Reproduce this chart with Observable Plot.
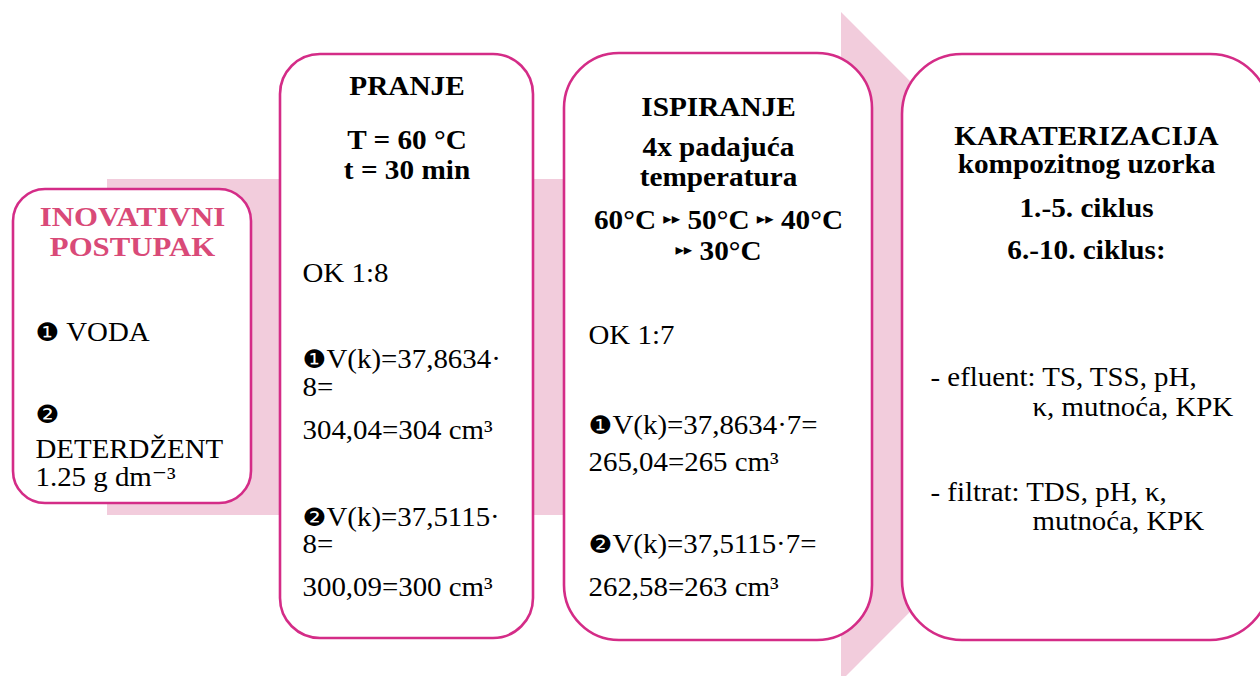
<!DOCTYPE html>
<html><head><meta charset="utf-8">
<script src="https://cdn.jsdelivr.net/npm/d3@7"></script>
<script src="https://cdn.jsdelivr.net/npm/@observablehq/plot@0.6"></script>
<style>html,body{margin:0;padding:0;background:#fff;overflow:hidden}</style>
</head><body><div id="chart"></div>
<script>
// ---------- content ----------
const box1Title = ["INOVATIVNI", "POSTUPAK"];
const box1Body = ["❶ VODA", "❷", "DETERDŽENT", "1.25 g dm⁻³"];
const box2Head = ["PRANJE", "T = 60 °C", "t = 30 min"];
const box2Body = ["OK 1:8", "❶V(k)=37,8634·", "8=", "304,04=304 cm³", "❷V(k)=37,5115·", "8=", "300,09=300 cm³"];
const box3Head = ["ISPIRANJE", "4x padajuća", "temperatura", "60°C ▸▸ 50°C ▸▸ 40°C", "▸▸ 30°C"];
const box3Body = ["OK 1:7", "❶V(k)=37,8634·7=", "265,04=265 cm³", "❷V(k)=37,5115·7=", "262,58=263 cm³"];
const box4Head = ["KARATERIZACIJA", "kompozitnog uzorka", "1.-5. ciklus", "6.-10. ciklus:"];
const box4Body = ["- efluent: TS, TSS, pH,", "κ, mutnoća, KPK", "- filtrat: TDS, pH, κ,", "mutnoća, KPK"];

// ---------- layout (pixel space) ----------
const W = 1260, H = 676;
const boxes = [
  {x1: 13, x2: 251, y1: 189, y2: 503, r: 32},
  {x1: 280, x2: 533, y1: 54, y2: 638, r: 40},
  {x1: 564, x2: 872, y1: 53, y2: 640, r: 55},
  {x1: 902, x2: 1270, y1: 54, y2: 640, r: 60}
];
const arrowBody = [{x1: 107, x2: 845, y1: 179, y2: 515}];
const arrowHead = [{x: 841, y1: 12, y2: 681}, {x: 1175, y1: 346.5, y2: 346.5}];

const cx = b => (b.x1 + b.x2) / 2;
const rows = (lines, xs, ys) => lines.map((t, i) => ({
  text: t, x: Array.isArray(xs) ? xs[i] : xs, y: ys[i]
}));

const titleRows = rows(box1Title, cx(boxes[0]), [225, 255]);
const headRows = [
  ...rows(box2Head, cx(boxes[1]), [94, 148, 178]),
  ...rows(box3Head, cx(boxes[2]), [115, 155, 185, 228, 259]),
  ...rows(box4Head, cx(boxes[3]), [144, 172, 216, 258])
];
const bodyRows = [
  ...rows(box1Body, 35, [340, 422, 457, 485]),
  ...rows(box2Body, 302, [281, 367, 395, 438, 525, 552, 595]),
  ...rows(box3Body, 588, [343, 433, 470, 552, 595]),
  ...rows(box4Body, [930, 1032, 930, 1032], [385, 415, 500, 529])
];

const PINK = "#f2ccdc", MAG = "#d42c87", TITLE = "#d94a78";
const FONT = "'Liberation Serif', 'Times New Roman', 'DejaVu Serif', serif";

const chart = Plot.plot({
  width: W, height: H, margin: 0,
  x: {domain: [0, W], range: [0, W], axis: null},
  y: {domain: [0, H], range: [0, H], axis: null},
  style: {fontFamily: FONT, background: "#fff"},
  marks: [
    Plot.rect(arrowBody, {x1: "x1", x2: "x2", y1: "y1", y2: "y2", fill: PINK}),
    Plot.areaY(arrowHead, {x: "x", y1: "y1", y2: "y2", fill: PINK, curve: "linear"}),
    Plot.rect(boxes, {x1: "x1", x2: "x2", y1: "y1", y2: "y2", rx: 36, fill: "#fff", stroke: MAG, strokeWidth: 2.6}),
    Plot.text(titleRows, {x: "x", y: "y", text: "text", textAnchor: "middle", lineAnchor: "bottom",
      fontSize: 28, fontWeight: "bold", fill: TITLE}),
    Plot.text(headRows, {x: "x", y: "y", text: "text", textAnchor: "middle", lineAnchor: "bottom",
      fontSize: 28, fontWeight: "bold", fill: "#000"}),
    Plot.text(bodyRows, {x: "x", y: "y", text: "text", textAnchor: "start", lineAnchor: "bottom",
      fontSize: 27, fill: "#000"})
  ]
});

// per-box corner radii
const rectGroups = chart.querySelectorAll("g[aria-label='rect']");
rectGroups[1].querySelectorAll("rect").forEach((el, i) => {
  if (boxes[i]) { el.setAttribute("rx", boxes[i].r); el.setAttribute("ry", boxes[i].r); }
});

// typographic tweaks: dingbats / small arrows, slight horizontal widening like the original
const SVGNS = "http://www.w3.org/2000/svg";
const textGroups = chart.querySelectorAll("g[aria-label='text']");
const stretch = [1.1, 1.045, 1.07];
textGroups.forEach((g, gi) => {
  g.querySelectorAll("text").forEach(el => {
    const s = el.textContent;
    if (/[❶❷▸]/.test(s)) {
      const parts = s.split(/([❶❷]|▸▸)/).filter(p => p);
      el.textContent = "";
      let lift = 0;
      for (const p of parts) {
        const ts = document.createElementNS(SVGNS, "tspan");
        if (p === "❶" || p === "❷") {
          ts.setAttribute("font-size", 25);
          ts.setAttribute("font-family", "DejaVu Sans");
        } else if (p === "▸▸") {
          ts.setAttribute("font-size", 16);
          ts.setAttribute("font-family", "DejaVu Sans");
          ts.setAttribute("dy", -5); lift = 5;
        } else if (lift) {
          ts.setAttribute("dy", lift); lift = 0;
        }
        ts.textContent = p;
        el.appendChild(ts);
      }
    }
    const k = stretch[gi];
    const t = el.getAttribute("transform");
    if (t) el.setAttribute("transform", `${t} scale(${k},1)`);
    else {
      const x = +el.getAttribute("x") || 0, y = +el.getAttribute("y") || 0;
      el.removeAttribute("x"); el.removeAttribute("y");
      el.setAttribute("transform", `translate(${x},${y}) scale(${k},1)`);
    }
  });
});
document.getElementById("chart").append(chart);
</script>
</body></html>
